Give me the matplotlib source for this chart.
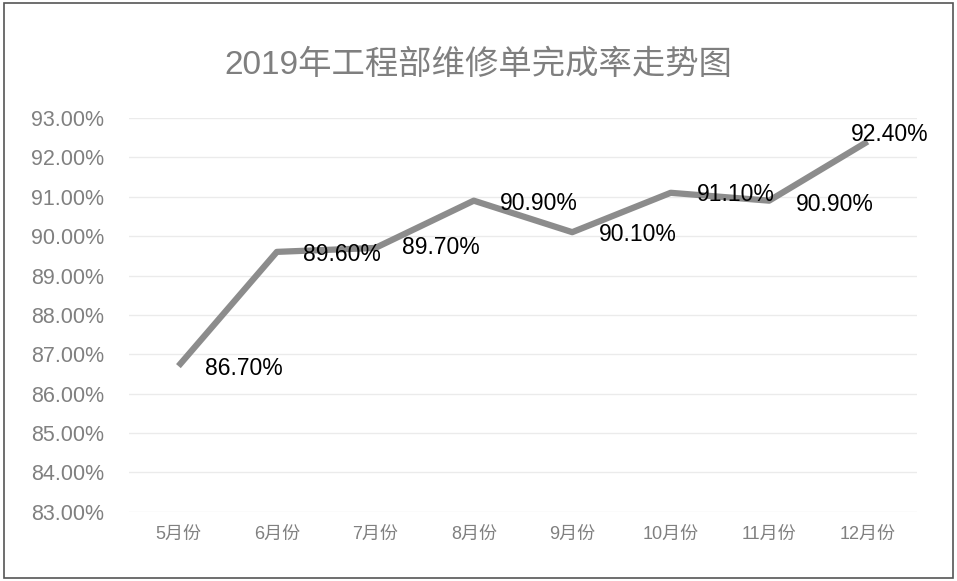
import matplotlib
matplotlib.use("Agg")
import matplotlib.pyplot as plt
from matplotlib.patches import Rectangle

plt.rcParams['font.family'] = ['Liberation Sans', 'Noto Sans CJK SC', 'DejaVu Sans']

months = ["5月份", "6月份", "7月份", "8月份", "9月份", "10月份", "11月份", "12月份"]
rates = [86.7, 89.6, 89.7, 90.9, 90.1, 91.1, 90.9, 92.4]
label_offsets = [(19, -2), (19, -2), (19, 0), (19, -2), (19, -2), (19, -1), (19, -3), (-12, 5)]

fig = plt.figure(figsize=(9.57, 5.81), dpi=100)
ax = fig.add_axes([0.135, 0.119, 0.823, 0.678])

x = list(range(len(months)))
ax.plot(x, rates, color='#8c8c8c', linewidth=4.5, solid_capstyle='butt')
for xi, v, (dx, dy) in zip(x, rates, label_offsets):
    ax.annotate(f"{v:.2f}%", (xi, v), xytext=(dx, dy), textcoords='offset points',
                ha='left', va='center', fontsize=16.5, color='black')

ax.set_xlim(-0.5, len(months) - 0.5)
ax.set_ylim(83, 93)
ax.set_yticks(range(83, 94))
ax.set_yticklabels([f"{t:.2f}%" for t in range(83, 94)], color='#808080', fontsize=15.5)
ax.set_xticks(x)
ax.set_xticklabels(months, color='#808080', fontsize=13)
ax.grid(axis='y', color='#ebebeb', linewidth=1)
ax.set_axisbelow(True)
for s in ax.spines.values():
    s.set_visible(False)
ax.tick_params(length=0, pad=10)
ax.tick_params(axis='y', pad=18)

fig.text(0.5, 0.888, "2019年工程部维修单完成率走势图", ha='center', va='center',
         fontsize=24, color='#7f7f7f')
fig.patches.append(Rectangle((0.004, 0.005), 0.992, 0.99, transform=fig.transFigure,
                             fill=False, edgecolor='#555555', linewidth=1.2))

fig.savefig("out.png", dpi=100)
